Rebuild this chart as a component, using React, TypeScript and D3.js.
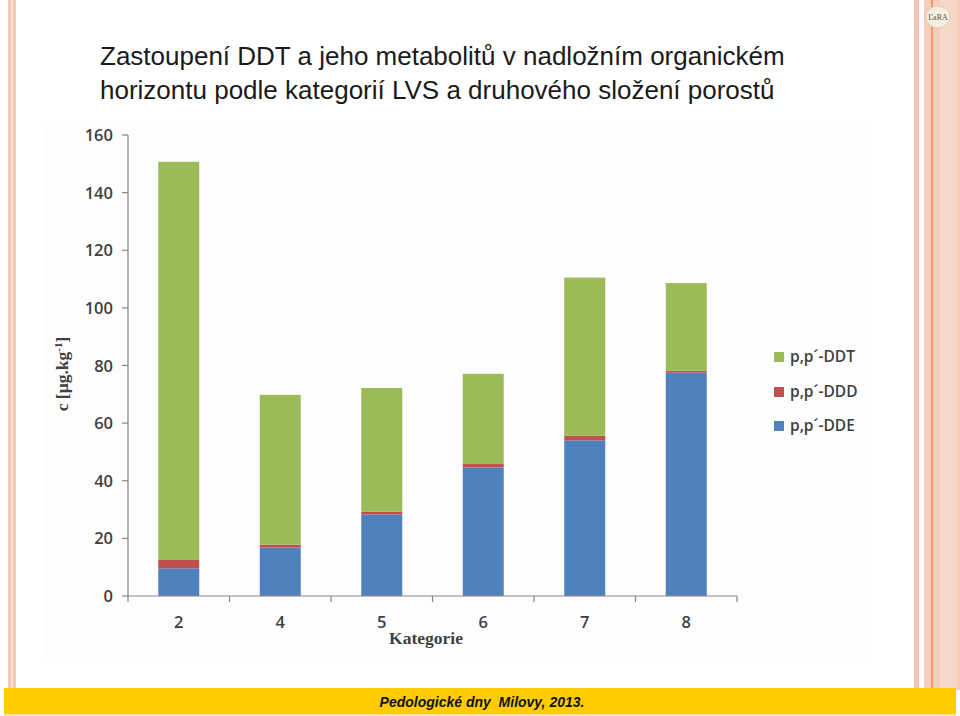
import React from "react";
import * as d3 from "d3";

const categories = ["2", "4", "5", "6", "7", "8"];
const seriesKeys = ["DDE", "DDD", "DDT"];
const seriesLabels = ["p,p´-DDE", "p,p´-DDD", "p,p´-DDT"];
const seriesColors = ["#4f81bd", "#c0504d", "#9bbb59"];
const ddeValues = [9.6, 16.8, 28.3, 44.6, 54.0, 77.5];
const dddValues = [2.9, 1.0, 1.0, 1.2, 1.6, 0.7];
const ddtValues = [138.2, 52.0, 42.9, 31.3, 54.9, 30.4];
const yTicks = [0, 20, 40, 60, 80, 100, 120, 140, 160];
const titleLines = [
  "Zastoupení DDT a jeho metabolitů v nadložním organickém",
  "horizontu podle kategorií LVS a druhového složení porostů",
];
const footerText = "Pedologické dny  Milovy, 2013.";

export default function App() {
  const rows = categories.map((c, i) => ({
    cat: c,
    DDE: ddeValues[i],
    DDD: dddValues[i],
    DDT: ddtValues[i],
  }));
  const stacked = d3.stack<any>().keys(seriesKeys)(rows);

  const x = d3.scaleBand().domain(categories).range([128, 737]).paddingInner(0).paddingOuter(0);
  const y = d3.scaleLinear().domain([0, 160]).range([596, 135]);
  const barW = 41;
  const boundaries = [...categories.map((c) => x(c)!), 737];

  const legendOrder = [2, 1, 0];
  const legendY = [357, 392, 426];

  return (
    <svg
      width={960}
      height={716}
      style={{ position: "absolute", left: 0, top: 0, background: "#fff" }}
    >
      {/* left border */}
      <rect x={8} y={0} width={8} height={688} fill="#f8c8b6" />
      <rect x={11} y={0} width={2} height={688} fill="#fbe0d4" />
      {/* right border */}
      <rect x={914} y={0} width={5} height={690} fill="#f6c4b2" />
      <rect x={924} y={0} width={36} height={690} fill="#f6cdbb" />
      <rect x={940} y={0} width={17} height={690} fill="#f8d6c8" />
      <line x1={932} y1={0} x2={932} y2={690} stroke="#f08a4b" strokeWidth={1.5} />
      {/* logo */}
      <ellipse cx={938} cy={17} rx={12} ry={11} fill="#f4efe0" stroke="#d8d2b8" strokeWidth={1} />
      <text x={938} y={20} textAnchor="middle" fontFamily="Liberation Serif" fontSize={8} fill="#555">
        ĽaRA
      </text>

      {/* chart background */}
      <rect x={45} y={122} width={825} height={535} fill="#fdfdfd" />

      {/* title */}
      {titleLines.map((t, i) => (
        <text
          key={i}
          x={100}
          y={65 + i * 34}
          fontFamily="Liberation Sans, Arial"
          fontSize={26}
          fill="#1a1a1a"
        >
          {t}
        </text>
      ))}

      {/* bars */}
      {stacked.map((s, si) => (
        <g key={s.key} fill={seriesColors[si]}>
          {s.map((d, i) => (
            <rect
              key={i}
              x={x(categories[i])! + x.bandwidth() / 2 - barW / 2}
              y={y(d[1])}
              width={barW}
              height={y(d[0]) - y(d[1])}
            />
          ))}
        </g>
      ))}

      {/* y axis */}
      <line x1={128} y1={y(160)} x2={128} y2={y(0)} stroke="#868686" strokeWidth={1.2} />
      {yTicks.map((t) => (
        <g key={t}>
          <line x1={122} x2={128} y1={y(t)} y2={y(t)} stroke="#868686" strokeWidth={1.2} />
          <text
            x={113}
            y={y(t) + 6}
            textAnchor="end"
            fontFamily="Open Sans"
            fontWeight={600}
            fontSize={16.5}
            fill="#404040"
          >
            {t}
          </text>
        </g>
      ))}

      {/* x axis */}
      <line x1={128} y1={y(0)} x2={737} y2={y(0)} stroke="#868686" strokeWidth={1.2} />
      {boundaries.map((b, i) => (
        <line key={i} x1={b} x2={b} y1={y(0)} y2={y(0) + 6} stroke="#868686" strokeWidth={1.2} />
      ))}
      {categories.map((c) => (
        <text
          key={c}
          x={x(c)! + x.bandwidth() / 2}
          y={628}
          textAnchor="middle"
          fontFamily="Open Sans"
          fontWeight={600}
          fontSize={16.5}
          fill="#404040"
        >
          {c}
        </text>
      ))}

      {/* axis titles */}
      <text
        x={426}
        y={644}
        textAnchor="middle"
        fontFamily="Liberation Serif"
        fontWeight="bold"
        fontSize={17.5}
        fill="#404040"
      >
        Kategorie
      </text>
      <text
        transform="translate(68,374) rotate(-90)"
        textAnchor="middle"
        fontFamily="Liberation Serif"
        fontWeight="bold"
        fontSize={17.5}
        fill="#404040"
      >
        c [µg.kg<tspan dy={-6} fontSize={11}>-1</tspan>
        <tspan dy={6}>]</tspan>
      </text>

      {/* legend */}
      {legendOrder.map((si, j) => (
        <g key={si}>
          <rect x={774} y={legendY[j] - 5} width={10} height={10} fill={seriesColors[si]} />
          <text
            x={790}
            y={legendY[j] + 5}
            fontFamily="Open Sans"
            fontWeight={600}
            fontSize={15.5}
            fill="#404040"
          >
            {seriesLabels[si]}
          </text>
        </g>
      ))}

      {/* footer */}
      <rect x={4} y={688} width={952} height={26} fill="#ffcc00" />
      <rect x={4} y={714} width={952} height={2} fill="#fde9a0" />
      <text
        x={482}
        y={707}
        textAnchor="middle"
        fontFamily="Liberation Sans, Arial"
        fontWeight="bold"
        fontStyle="italic"
        fontSize={14}
        fill="#111"
        style={{ whiteSpace: "pre" }}
      >
        {footerText}
      </text>
    </svg>
  );
}
